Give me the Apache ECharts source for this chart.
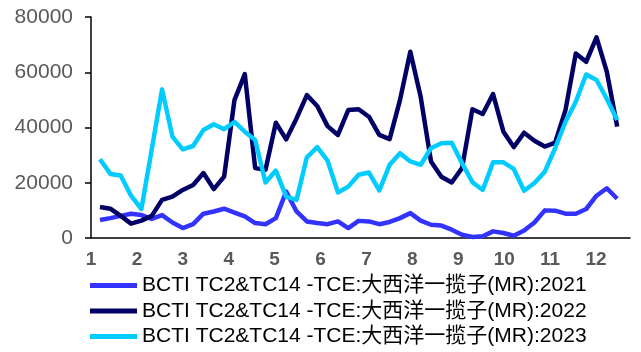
<!DOCTYPE html>
<html>
<head>
<meta charset="utf-8">
<script src="https://cdn.jsdelivr.net/npm/echarts@6/dist/echarts.min.js"></script>
<style>
html,body{margin:0;padding:0;background:#fff;}
#chart{width:641px;height:352px;}
</style>
</head>
<body>
<div id="chart"></div>
<script>
// ---- data ----
const monthLabels = ['1','2','3','4','5','6','7','8','9','10','11','12'];
const yTicks = [0, 20000, 40000, 60000, 80000];
const seriesNames = [
  'BCTI TC2&TC14 -TCE:大西洋一揽子(MR):2021',
  'BCTI TC2&TC14 -TCE:大西洋一揽子(MR):2022',
  'BCTI TC2&TC14 -TCE:大西洋一揽子(MR):2023'
];
// weekly observations (51 weeks)
const values2021 = [6500, 7200, 8000, 8800, 8300, 6900, 8300, 5600, 3600, 5000,
  8800, 9600, 10600, 9200, 7800, 5400, 5000, 7200, 16800, 9600,
  6000, 5400, 5000, 6000, 3600, 6200, 6000, 5000, 5800, 7200,
  9000, 6300, 4800, 4500, 3000, 1200, 400, 600, 2400, 1800,
  800, 2700, 5600, 10000, 9900, 8800, 8800, 10500, 15300, 18000, 14200];
const values2022 = [11200, 10600, 8000, 5200, 6300, 8000, 13800, 15000, 17400, 19200,
  23500, 17700, 22200, 49900, 59300, 25300, 24700, 41700, 35700, 43300,
  51700, 47800, 40500, 37300, 46300, 46600, 43900, 37300, 35800, 49900,
  67400, 51100, 27700, 22200, 20100, 25300, 46600, 44900, 52100, 38500,
  32900, 38100, 35200, 33100, 34500, 46300, 66800, 63800, 72600, 60100, 40300];
const values2023 = [28500, 23200, 22600, 15300, 10500, 32000, 53800, 36700, 32100, 33300,
  39100, 41200, 39400, 42000, 38500, 35500, 20100, 24400, 15000, 13800,
  29200, 32900, 28000, 16500, 18600, 22900, 23700, 17200, 26500, 30700,
  27700, 26500, 32500, 34300, 34500, 27100, 20200, 17400, 27400, 27400,
  25000, 17100, 19900, 24000, 32500, 42100, 49300, 59200, 57200, 50300, 42700];

// position of each week on the month axis
const firstWeekPos = 1.196;   // month coordinate of first weekly observation
const monthsPerWeek = 0.2253;
function toPairs(vals){ return vals.map((v,i)=>[firstWeekPos + i*monthsPerWeek, v]); }

const colors = ['#3333FF', '#000066', '#00CCFF'];
const allValues = [values2021, values2022, values2023];

const chart = echarts.init(document.getElementById('chart'), null, {renderer:'canvas'});
const fontLatin = '"Liberation Sans", Arial, "Noto Sans CJK SC", sans-serif';

chart.setOption({
  animation: false,
  backgroundColor: '#ffffff',
  grid: { left: 91, right: 11, top: 17, height: 221, containLabel: false },
  xAxis: {
    type: 'value',
    min: 1,
    max: 12.74,
    interval: 1,
    axisLine: { show: true, lineStyle: { color: '#000', width: 1.5 } },
    axisTick: { show: false },
    splitLine: { show: false },
    axisLabel: {
      margin: 12,
      color: '#595959',
      fontSize: 19,
      fontWeight: 'bold',
      fontFamily: fontLatin,
      showMaxLabel: false,
      formatter: function(v){
        return Number.isInteger(v) && v >= 1 && v <= 12 ? monthLabels[v-1] : '';
      }
    }
  },
  yAxis: {
    type: 'value',
    min: yTicks[0],
    max: yTicks[yTicks.length-1],
    interval: yTicks[1]-yTicks[0],
    axisLine: { show: true, lineStyle: { color: '#000', width: 1.5 } },
    axisTick: { show: true, inside: false, length: 6, lineStyle: { color: '#000', width: 1.5 } },
    splitLine: { show: false },
    axisLabel: {
      margin: 18,
      color: '#595959',
      fontSize: 21,
      fontFamily: fontLatin,
      formatter: function(v){ return String(v); }
    }
  },
  legend: {
    orient: 'vertical',
    left: 90,
    top: 273,
    padding: 0,
    height: 80,
    icon: 'rect',
    itemWidth: 47,
    itemHeight: 5,
    itemGap: 0.5,
    textStyle: { color: '#000', fontSize: 21, lineHeight: 25, fontFamily: fontLatin },
    data: seriesNames
  },
  series: seriesNames.map((name, k) => ({
    name: name,
    type: 'line',
    data: toPairs(allValues[k]),
    symbol: 'none',
    showSymbol: false,
    smooth: false,
    color: colors[k],
    lineStyle: { color: colors[k], width: 4.5, join: 'round' },
    z: 2 + k
  }))
});
</script>
</body>
</html>
